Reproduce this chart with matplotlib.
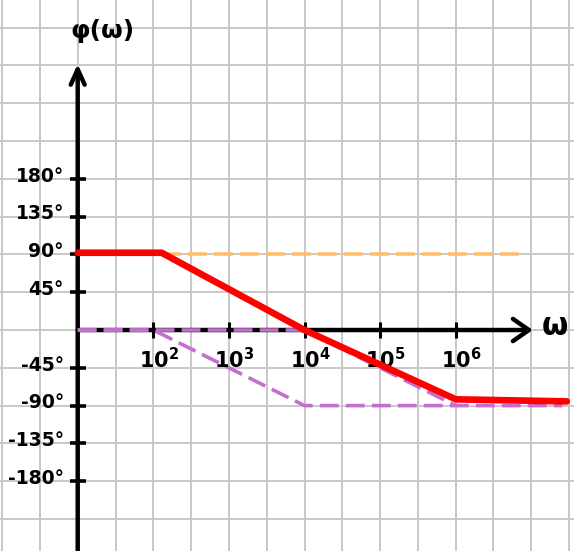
import numpy as np
import matplotlib.pyplot as plt
from matplotlib.ticker import FixedLocator, NullLocator

# asymptotic Bode phase, x given as log10(omega), phase in degrees
zero_logw = [2.11, 6.92]
zero_phase = [90, 90]

pole1_logw = [1, 2, 4, 7.41]
pole1_phase = [0, 0, -90, -90]

pole2_logw = [1, 4, 6]
pole2_phase = [0, 0, -90]

total_logw = [1, 2.11, 4, 6, 7.47]
total_phase = [92, 92, 0, -82.5, -85]

phase_ticks = [180, 135, 90, 45, -45, -90, -135, -180]
phase_labels = ["180°", "135°", "90°", "45°", "-45°", "-90°", "-135°", "-180°"]

decades = [2, 3, 4, 5, 6]
decade_labels = [r"$\mathbf{10^{%d}}$" % d for d in decades]

purple = "#c46fd0"
orange = "#ffbe6e"

fig = plt.figure(figsize=(5.74, 5.51), dpi=100)
ax = fig.add_axes([0, 0, 1, 1])
ax.set_xscale("log")
ax.set_xlim(10**-0.028, 10**7.565)
ax.set_ylim(-263.1, 392.9)

# squared paper: half a decade by 45 degrees
ax.xaxis.set_major_locator(NullLocator())
ax.yaxis.set_major_locator(NullLocator())
ax.xaxis.set_minor_locator(FixedLocator(10 ** (np.arange(0, 16) / 2)))
ax.yaxis.set_minor_locator(FixedLocator(np.arange(-5, 9) * 45))
ax.grid(which="minor", color="#c8c8c8", lw=1.4)
ax.tick_params(which="both", length=0, labelbottom=False, labelleft=False)
ax.set_axisbelow(True)
for s in ax.spines.values():
    s.set_visible(False)

# hand drawn axes with open arrow heads
ax.annotate("", xy=(10**7.02, 0), xytext=(10, 0),
            arrowprops=dict(arrowstyle="->,head_length=1.15,head_width=0.8",
                            lw=3.2, color="black", shrinkA=0, shrinkB=0,
                            mutation_scale=10), zorder=2)
ax.annotate("", xy=(10, 316.7), xytext=(10, -263.1),
            arrowprops=dict(arrowstyle="->,head_length=1.1,head_width=0.5",
                            lw=3.2, color="black", shrinkA=0, shrinkB=0,
                            mutation_scale=10), zorder=2)

# component asymptotes
lw_d = 2.6
ax.plot(10 ** np.array(zero_logw), zero_phase, color=orange, lw=lw_d,
        ls=(0, (5.2, 2.0)), zorder=3)
ax.plot(10 ** np.array(pole1_logw), pole1_phase, color=purple, lw=lw_d,
        ls=(0, (5.2, 2.0)), zorder=3)
ax.plot(10 ** np.array(pole2_logw), pole2_phase, color=purple, lw=lw_d,
        ls=(0, (5.2, 2.0)), zorder=3)

# total phase
ax.plot(10 ** np.array(total_logw), total_phase, color="#ff0000", lw=4.8,
        solid_capstyle="round", solid_joinstyle="round", zorder=6)

# ticks
ax.plot([10] * len(phase_ticks), phase_ticks, ls="none", marker="_",
        ms=11, mew=2.6, color="black", zorder=5)
ax.plot([10.0**d for d in decades], [0] * len(decades), ls="none",
        marker="|", ms=12, mew=2.2, color="black", zorder=5)

for val, lab in zip(phase_ticks, phase_labels):
    ax.annotate(lab, xy=(10, val), xytext=(-10, 2), textcoords="offset points",
                ha="right", va="center", fontsize=13.5, fontweight="bold")

for d, lab in zip(decades, decade_labels):
    ax.annotate(lab, xy=(10.0**d, 0), xytext=(4, -21), textcoords="offset points",
                ha="center", va="center", fontsize=15)

ax.text(0.179, 0.944, "φ(ω)", transform=ax.transAxes, ha="center",
        va="center", fontsize=18, fontweight="bold")
ax.text(0.967, 0.407, "ω", transform=ax.transAxes, ha="center",
        va="center", fontsize=22, fontweight="bold")

fig.savefig("out.png", dpi=100)
